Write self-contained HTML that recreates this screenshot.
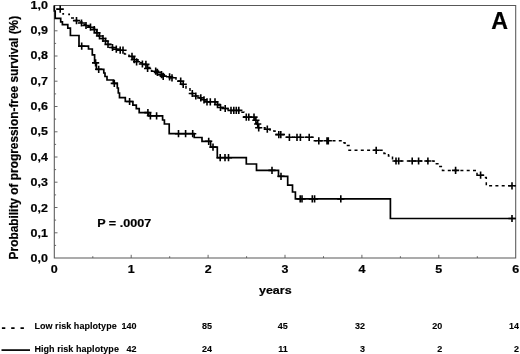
<!DOCTYPE html>
<html lang="en">
<head>
<meta charset="utf-8">
<title>Progression-free survival by haplotype</title>
<style>
html,body{margin:0;padding:0;background:#fff;}
body{width:520px;height:354px;overflow:hidden;font-family:"Liberation Sans",Arial,Helvetica,sans-serif;}
svg{display:block;}
</style>
</head>
<body>
<svg width="520" height="354" viewBox="0 0 520 354">
<rect width="520" height="354" fill="#fff"/>
<g fill="none" stroke="#585858" stroke-width="1.05">
<path d="M54.3,5.5H515.7V258.0H54.3Z"/>
<path stroke-width="0.9" d="M54.3,245.4h1.8M54.3,232.8h3.2M54.3,220.1h1.8M54.3,207.5h3.2M54.3,194.9h1.8M54.3,182.2h3.2M54.3,169.6h1.8M54.3,157.0h3.2M54.3,144.4h1.8M54.3,131.8h3.2M54.3,119.1h1.8M54.3,106.5h3.2M54.3,93.9h1.8M54.3,81.2h3.2M54.3,68.6h1.8M54.3,56.0h3.2M54.3,43.4h1.8M54.3,30.8h3.2M54.3,18.1h1.8M92.8,258v-1.8M131.2,258v-3.2M169.7,258v-1.8M208.1,258v-3.2M246.6,258v-1.8M285.0,258v-3.2M323.5,258v-1.8M361.9,258v-3.2M400.4,258v-1.8M438.8,258v-3.2M477.3,258v-1.8"/>
</g>
<g fill="none" stroke="#000">
<path stroke-width="1.7" stroke-linejoin="miter" d="M54.3,5.4 L54.3,11.0 L55.2,11.0 L55.2,18.4 L60.7,18.4 L60.7,21.8 L62.4,21.8 L62.4,24.6 L67.8,24.6 L67.8,28.2 L70.4,28.2 L70.4,35.5 L79.0,35.5 L79.0,46.2 L88.5,46.2 L88.5,49.0 L92.3,49.0 L92.3,54.8 L94.6,54.8 L94.6,62.9 L96.4,62.9 L96.4,69.3 L103.8,69.3 L103.8,73.0 L105.0,73.0 L105.0,76.5 L107.0,76.5 L107.0,80.0 L113.3,80.0 L113.3,83.4 L117.3,83.4 L117.3,88.0 L118.3,88.0 L118.3,93.0 L119.5,93.0 L119.5,97.7 L125.3,97.7 L125.3,101.5 L132.9,101.5 L132.9,105.2 L136.3,105.2 L136.3,108.7 L139.2,108.7 L139.2,112.6 L148.7,112.6 L148.7,115.8 L162.6,115.8 L162.6,120.0 L164.4,120.0 L164.4,124.0 L169.2,124.0 L169.2,133.7 L194.2,133.7 L194.2,137.5 L202.0,137.5 L202.0,141.3 L210.6,141.3 L210.6,147.1 L217.3,147.1 L217.3,157.7 L246.3,157.7 L246.3,164.0 L256.5,164.0 L256.5,170.4 L278.5,170.4 L278.5,176.3 L287.7,176.3 L287.7,185.2 L292.5,185.2 L292.5,192.0 L295.4,192.0 L295.4,198.9 L390.4,198.9 L390.4,218.5 L515.7,218.5"/>
<path stroke-width="1.6" d="M78.1,46.2h7.2M81.7,42.6v7.2M92.0,62.9h7.2M95.6,59.3v7.2M95.1,69.3h7.2M98.7,65.7v7.2M110.7,83.4h7.2M114.3,79.8v7.2M126.0,101.5h7.2M129.6,97.9v7.2M144.3,112.6h7.2M147.9,109.0v7.2M146.8,115.8h7.2M150.4,112.2v7.2M153.0,115.8h7.2M156.6,112.2v7.2M174.9,133.7h7.2M178.5,130.1v7.2M182.0,133.7h7.2M185.6,130.1v7.2M189.1,133.7h7.2M192.7,130.1v7.2M205.1,141.3h7.2M208.7,137.7v7.2M209.4,147.1h7.2M213.0,143.5v7.2M216.6,157.7h7.2M220.2,154.1v7.2M221.4,157.7h7.2M225.0,154.1v7.2M224.9,157.7h7.2M228.5,154.1v7.2M268.4,170.4h7.2M272.0,166.8v7.2M277.4,176.3h7.2M281.0,172.7v7.2M296.6,198.9h7.2M300.2,195.3v7.2M298.4,198.9h7.2M302.0,195.3v7.2M308.7,198.9h7.2M312.3,195.3v7.2M311.0,198.9h7.2M314.6,195.3v7.2M337.2,198.9h7.2M340.8,195.3v7.2M508.4,218.5h7.2M512.0,214.9v7.2"/>
<path stroke-width="1.5" stroke-dasharray="3 3.3" d="M71.0,18.0 L74.0,18.0 L74.0,20.6 L79.0,20.6 L79.0,22.0 L83.0,22.0 L83.0,24.5 L87.0,24.5 L87.0,26.5 L91.0,26.5 L91.0,28.0 L94.5,28.0 L94.5,30.5 L96.5,30.5 L96.5,33.6 L98.5,33.6 L98.5,36.0 L101.5,36.0 L101.5,38.5 L104.5,38.5 L104.5,41.0 L107.0,41.0 L107.0,44.4 L110.5,44.4 L110.5,47.5 L114.5,47.5 L114.5,49.2 L118.0,49.2 L118.0,50.2 L124.5,50.2 L124.5,54.0 L129.0,54.0 L129.0,56.3 L133.0,56.3 L133.0,59.8 L138.0,59.8 L138.0,62.7 L143.5,62.7 L143.5,64.6 L146.5,64.6 L146.5,67.5 L151.5,67.5 L151.5,71.3 L158.0,71.3 L158.0,74.6 L162.0,74.6 L162.0,76.3 L170.0,76.3 L170.0,77.7 L176.0,77.7 L176.0,81.0 L182.0,81.0 L182.0,84.5 L186.0,84.5 L186.0,88.0 L190.0,88.0 L190.0,93.5 L194.0,93.5 L194.0,96.0 L198.0,96.0 L198.0,97.9 L202.5,97.9 L202.5,99.8 L205.5,99.8 L205.5,101.9 L216.0,101.9 L216.0,104.6 L219.0,104.6 L219.0,107.5 L223.0,107.5 L223.0,108.5 L228.0,108.5 L228.0,110.4 L240.5,110.4 L240.5,112.3 L244.0,112.3 L244.0,117.1 L255.0,117.1 L255.0,120.2 L256.8,120.2 L256.8,124.0 L258.3,124.0 L258.3,127.8 L265.0,127.8 L265.0,129.2 L270.0,129.2 L270.0,131.0 L275.0,131.0 L275.0,134.6 L285.0,134.6 L285.0,137.3 L313.0,137.3 L313.0,140.8 L341.0,140.8 L341.0,142.7 L345.0,142.7 L345.0,145.5 L349.0,145.5 L349.0,150.3 L384.0,150.3 L384.0,153.5 L388.5,153.5 L388.5,156.0 L392.5,156.0 L392.5,161.0 L434.0,161.0 L434.0,163.7 L439.0,163.7 L439.0,166.5 L442.5,166.5 L442.5,170.4 L477.0,170.4 L477.0,175.2 L484.0,175.2 L484.0,177.5 L486.3,177.5 L486.3,185.8 L515.7,185.8"/>
<path stroke-width="1.6" d="M56.6,9.1h7.2M60.2,5.5v7.2M72.9,20.6h7.2M76.5,17.0v7.2M77.9,23.0h7.2M81.5,19.4v7.2M82.4,25.5h7.2M86.0,21.9v7.2M86.9,27.2h7.2M90.5,23.6v7.2M90.7,29.6h7.2M94.3,26.0v7.2M93.4,32.9h7.2M97.0,29.3v7.2M95.9,36.0h7.2M99.5,32.4v7.2M99.4,38.5h7.2M103.0,34.9v7.2M101.9,41.0h7.2M105.5,37.4v7.2M104.4,44.4h7.2M108.0,40.8v7.2M108.9,47.5h7.2M112.5,43.9v7.2M112.7,49.2h7.2M116.3,45.6v7.2M116.6,50.2h7.2M120.2,46.6v7.2M119.4,50.2h7.2M123.0,46.6v7.2M128.4,56.4h7.2M132.0,52.8v7.2M130.7,59.7h7.2M134.3,56.1v7.2M133.0,61.8h7.2M136.6,58.2v7.2M138.8,64.0h7.2M142.4,60.4v7.2M142.3,64.4h7.2M145.9,60.8v7.2M144.0,68.5h7.2M147.6,64.9v7.2M152.1,71.2h7.2M155.7,67.6v7.2M153.8,72.4h7.2M157.4,68.8v7.2M157.9,74.6h7.2M161.5,71.0v7.2M159.6,76.3h7.2M163.2,72.7v7.2M166.0,76.8h7.2M169.6,73.2v7.2M168.4,77.8h7.2M172.0,74.2v7.2M177.1,81.1h7.2M180.7,77.5v7.2M179.6,84.3h7.2M183.2,80.7v7.2M188.7,93.5h7.2M192.3,89.9v7.2M192.2,96.0h7.2M195.8,92.4v7.2M197.2,97.9h7.2M200.8,94.3v7.2M200.4,99.8h7.2M204.0,96.2v7.2M203.4,101.9h7.2M207.0,98.3v7.2M206.7,101.9h7.2M210.3,98.3v7.2M211.4,101.9h7.2M215.0,98.3v7.2M213.9,104.6h7.2M217.5,101.0v7.2M216.9,107.5h7.2M220.5,103.9v7.2M221.6,108.5h7.2M225.2,104.9v7.2M227.4,110.4h7.2M231.0,106.8v7.2M230.2,110.4h7.2M233.8,106.8v7.2M232.7,110.4h7.2M236.3,106.8v7.2M235.2,110.4h7.2M238.8,106.8v7.2M242.7,117.1h7.2M246.3,113.5v7.2M245.2,117.1h7.2M248.8,113.5v7.2M250.4,117.1h7.2M254.0,113.5v7.2M252.3,120.2h7.2M255.9,116.6v7.2M254.1,124.0h7.2M257.7,120.4v7.2M255.1,127.8h7.2M258.7,124.2v7.2M263.7,129.2h7.2M267.3,125.6v7.2M275.2,134.6h7.2M278.8,131.0v7.2M277.2,134.6h7.2M280.8,131.0v7.2M285.8,137.3h7.2M289.4,133.7v7.2M293.4,137.3h7.2M297.0,133.7v7.2M296.8,137.3h7.2M300.4,133.7v7.2M305.6,137.3h7.2M309.2,133.7v7.2M315.2,140.8h7.2M318.8,137.2v7.2M323.4,140.8h7.2M327.0,137.2v7.2M324.7,140.8h7.2M328.3,137.2v7.2M372.6,150.3h7.2M376.2,146.7v7.2M392.4,161.0h7.2M396.0,157.4v7.2M395.1,161.0h7.2M398.7,157.4v7.2M408.6,161.0h7.2M412.2,157.4v7.2M415.0,161.0h7.2M418.6,157.4v7.2M424.3,161.0h7.2M427.9,157.4v7.2M452.0,170.4h7.2M455.6,166.8v7.2M477.0,175.2h7.2M480.6,171.6v7.2M508.4,185.8h7.2M512.0,182.2v7.2"/>
<path stroke-width="1.8" d="M62.3,13.8h1.8M68.2,14.3h1.8M56.3,9.1h1"/>
</g>
<g font-family="'Liberation Sans', Arial, Helvetica, sans-serif" font-weight="bold" fill="#000" stroke="#000" stroke-width="0.2">
<text transform="translate(47.9,262.2) scale(1.105,1)" font-size="11.3" text-anchor="end">0,0</text>
<text transform="translate(47.9,236.8) scale(1.105,1)" font-size="11.3" text-anchor="end">0,1</text>
<text transform="translate(47.9,211.5) scale(1.105,1)" font-size="11.3" text-anchor="end">0,2</text>
<text transform="translate(47.9,186.1) scale(1.105,1)" font-size="11.3" text-anchor="end">0,3</text>
<text transform="translate(47.9,160.8) scale(1.105,1)" font-size="11.3" text-anchor="end">0,4</text>
<text transform="translate(47.9,135.4) scale(1.105,1)" font-size="11.3" text-anchor="end">0,5</text>
<text transform="translate(47.9,110.0) scale(1.105,1)" font-size="11.3" text-anchor="end">0,6</text>
<text transform="translate(47.9,84.7) scale(1.105,1)" font-size="11.3" text-anchor="end">0,7</text>
<text transform="translate(47.9,59.3) scale(1.105,1)" font-size="11.3" text-anchor="end">0,8</text>
<text transform="translate(47.9,34.0) scale(1.105,1)" font-size="11.3" text-anchor="end">0,9</text>
<text transform="translate(47.9,8.6) scale(1.105,1)" font-size="11.3" text-anchor="end">1,0</text>
<text transform="translate(54.3,273.1) scale(1.105,1)" font-size="11.3" text-anchor="middle">0</text>
<text transform="translate(131.2,273.1) scale(1.105,1)" font-size="11.3" text-anchor="middle">1</text>
<text transform="translate(208.1,273.1) scale(1.105,1)" font-size="11.3" text-anchor="middle">2</text>
<text transform="translate(285.0,273.1) scale(1.105,1)" font-size="11.3" text-anchor="middle">3</text>
<text transform="translate(361.9,273.1) scale(1.105,1)" font-size="11.3" text-anchor="middle">4</text>
<text transform="translate(438.8,273.1) scale(1.105,1)" font-size="11.3" text-anchor="middle">5</text>
<text transform="translate(515.7,273.1) scale(1.105,1)" font-size="11.3" text-anchor="middle">6</text>
<text transform="translate(275.3,293.6) scale(1.105,1)" font-size="11.3" text-anchor="middle">years</text>
<text transform="translate(97.2,226.6) scale(1.115,1)" font-size="11.3" text-anchor="start">P = .0007</text>
<text transform="translate(491.2,28.5) scale(1.000,1)" font-size="23.2" text-anchor="start">A</text>
<text font-size="12" transform="translate(18.0,259.4) rotate(-90) scale(0.99,1)">Probability of progression-free survival (%)</text>
<g font-size="9" stroke-width="0.1">
<text x="34.4" y="329.4" textLength="82.3" lengthAdjust="spacing">Low risk haplotype</text>
<text x="34.4" y="351.8" textLength="84.5" lengthAdjust="spacing">High risk haplotype</text>
<g text-anchor="end">
<text x="136.5" y="329.4">140</text><text x="136.5" y="351.8">42</text>
<text x="212.0" y="329.4">85</text><text x="212.0" y="351.8">24</text>
<text x="287.8" y="329.4">45</text><text x="287.8" y="351.8">11</text>
<text x="365.0" y="329.4">32</text><text x="365.0" y="351.8">3</text>
<text x="442.2" y="329.4">20</text><text x="442.2" y="351.8">2</text>
<text x="519.0" y="329.4">14</text><text x="519.0" y="351.8">2</text>
</g></g>
</g>
<path d="M1.9,328.1H24.2" stroke="#000" stroke-width="1.8" stroke-dasharray="3.4 5.9" fill="none"/>
<path d="M1.5,350.1H30" stroke="#000" stroke-width="1.7" fill="none"/>
</svg>
</body>
</html>
